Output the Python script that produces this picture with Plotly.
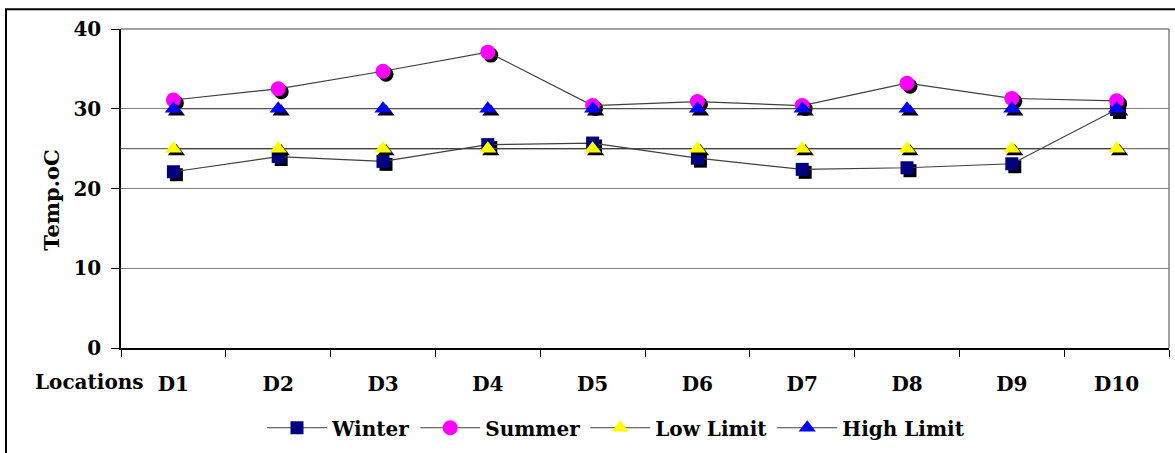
import plotly.graph_objects as go

locations = ["D1", "D2", "D3", "D4", "D5", "D6", "D7", "D8", "D9", "D10"]
winter = [22.1, 24.0, 23.4, 25.5, 25.7, 23.8, 22.4, 22.6, 23.1, 29.9]
summer = [31.1, 32.5, 34.7, 37.1, 30.4, 30.9, 30.4, 33.2, 31.3, 31.0]
low_limit = [25, 25, 25, 25, 25, 25, 25, 25, 25, 25]
high_limit = [30, 30, 30, 30, 30, 30, 30, 30, 30, 30]
y_ticks = [0, 10, 20, 30, 40]

W, H = 1175, 453
ML, MR, MT, MB = 121, 6, 29, 100
PW, PH = W - ML - MR, H - MT - MB
YMAX = 40
n = len(locations)
xs = list(range(n))
# shadow offset (3px right, 3px down) in data units
sdx = 3 * n / PW
sdy = -3 * YMAX / PH

FONT = "DejaVu Serif"
LINEC = "#404040"

series = [
    ("Winter", winter, "square", "#000080", 13),
    ("Summer", summer, "circle", "#FF00FF", 15),
    ("Low Limit", low_limit, "triangle-up", "#FFFF00", 15),
    ("High Limit", high_limit, "triangle-up", "#0000FF", 15),
]

fig = go.Figure()
for name, vals, sym, col, sz in series:
    fig.add_trace(go.Scatter(
        x=[i + sdx for i in xs], y=[v + sdy for v in vals], mode="markers",
        marker=dict(symbol=sym, color="black", size=sz, line=dict(width=0)),
        showlegend=False, hoverinfo="skip"))
    fig.add_trace(go.Scatter(
        x=xs, y=vals, mode="lines+markers", name=name,
        line=dict(color=LINEC, width=1.2),
        marker=dict(symbol=sym, color=col, size=sz, line=dict(width=0))))

fig.update_layout(
    width=W, height=H,
    margin=dict(l=ML, r=MR, t=MT, b=MB),
    paper_bgcolor="white", plot_bgcolor="white",
    font=dict(family=FONT, size=20, color="black"),
    showlegend=True,
    legend=dict(orientation="h", x=(616 - ML) / PW, xanchor="center",
                y=(PH - (434 - MT)) / PH, yanchor="middle",
                font=dict(family=FONT, size=20, color="black", weight="bold"),
                itemwidth=60, tracegroupgap=0, bgcolor="rgba(0,0,0,0)"),
    xaxis=dict(range=[-0.5, n - 0.5], tickvals=xs, ticktext=locations,
               ticks="", showgrid=False, zeroline=False,
               showline=True, linecolor="black", linewidth=1.5,
               tickfont=dict(family=FONT, size=20, weight="bold"),
               ticklabelstandoff=17,
               minor=dict(tick0=-0.5, dtick=1, ticks="outside", ticklen=7,
                          tickcolor="black", tickwidth=1.3, showgrid=False)),
    yaxis=dict(range=[0, YMAX], tickvals=y_ticks, ticks="outside", ticklen=8,
               tickcolor="black", tickwidth=1.3,
               showgrid=True, gridcolor="#808080", gridwidth=1.3,
               zeroline=False, showline=True, linecolor="black", linewidth=1.5,
               tickfont=dict(family=FONT, size=20, weight="bold"),
               ticklabelstandoff=6),
)

shapes = [
    # low limit reference line
    dict(type="line", xref="paper", yref="y", x0=0, x1=1,
         y0=low_limit[0], y1=low_limit[0],
         line=dict(color="#707070", width=1.3), layer="below"),
    # plot frame top/right in gray
    dict(type="line", xref="paper", yref="paper", x0=0, x1=1, y0=1, y1=1,
         line=dict(color="#808080", width=1.5)),
    dict(type="line", xref="paper", yref="paper", x0=1, x1=1, y0=0, y1=1,
         line=dict(color="#808080", width=1.5)),
    # outer chart border
    dict(type="rect", xref="paper", yref="paper",
         x0=(6 - ML) / PW, x1=(W + 20 - ML) / PW,
         y0=-(H + 20 - MT - PH) / PH, y1=1 + (MT - 9) / PH,
         line=dict(color="black", width=2)),
]
fig.update_layout(shapes=shapes)

fig.add_annotation(text="<b>Temp.oC</b>", xref="paper", yref="paper",
                   x=(37 - ML) / PW, y=(PH - (203 - MT)) / PH,
                   textangle=-90, showarrow=False,
                   font=dict(family=FONT, size=21, color="black"))
fig.add_annotation(text="<b>Locations</b>", xref="paper", yref="paper",
                   x=(146 - ML) / PW, xanchor="right",
                   y=(PH - (388 - MT)) / PH, yanchor="middle",
                   showarrow=False,
                   font=dict(family=FONT, size=20, color="black"))

fig.write_html("out.html")
